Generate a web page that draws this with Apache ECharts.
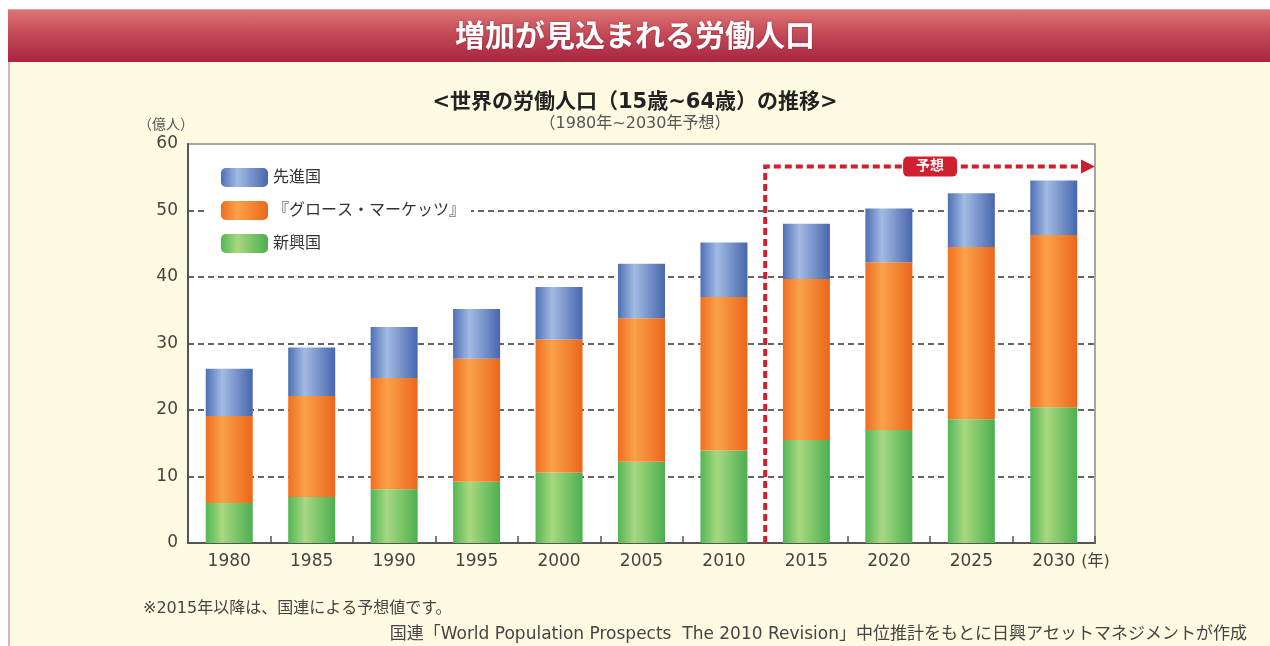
<!DOCTYPE html>
<html>
<head>
<meta charset="utf-8">
<title>増加が見込まれる労働人口</title>
<script src="https://cdn.jsdelivr.net/npm/echarts@6/dist/echarts.min.js"></script>
<style>
    html, body { margin: 0; padding: 0; background: #fff; }
    #wrap { position: relative; width: 1270px; height: 646px; overflow: hidden; }
    /* タイトルバーとクリーム色のパネル */
    .bar { position: absolute; left: 8px; top: 9px; width: 1270px; height: 52px;
           background: linear-gradient(#de7474, #c44b57 45%, #a82442);
           border-top: 1px solid #e8a0a6; }
    .panel { position: absolute; left: 8px; top: 62px; width: 1270px; height: 600px;
             background: #fdfbe2; border-left: 2px solid #e3b0b6; }
    #main { position: absolute; left: 0; top: 0; width: 1270px; height: 646px; }
</style>
</head>
<body>
<div id="wrap">
    <div class="bar"></div>
    <div class="panel"></div>
    <div id="main"></div>
</div>
<script>
// データ（億人）
var years = ['1980', '1985', '1990', '1995', '2000', '2005', '2010', '2015', '2020', '2025', '2030'];
var emerging = [6.0, 6.9, 8.1, 9.2, 10.6, 12.2, 13.9, 15.5, 17.0, 18.6, 20.4];
var growth = [13.1, 15.2, 16.7, 18.5, 20.0, 21.6, 23.1, 24.2, 25.2, 25.9, 25.9];
var developed = [7.1, 7.3, 7.7, 7.5, 7.9, 8.2, 8.2, 8.3, 8.1, 8.1, 8.2];
var yTicks = [0, 10, 20, 30, 40, 50, 60];
var forecastFrom = '2015';
var forecastLevel = 56.6;

var cjk = "'Liberation Sans', 'Noto Sans CJK JP', sans-serif";
var wide = "'DejaVu Sans', 'Noto Sans CJK JP', sans-serif";

// 棒の横方向グラデーション
function barGrad(dark, light, dark2) {
    return new echarts.graphic.LinearGradient(0, 0, 1, 0, [
        { offset: 0, color: dark },
        { offset: 0.35, color: light },
        { offset: 1, color: dark2 }
    ]);
}

var myChart = echarts.init(document.getElementById('main'), null, { renderer: 'canvas' });

var option = {
    animation: false,
    textStyle: { fontFamily: wide },
    title: [
        {
            text: '増加が見込まれる労働人口',
            left: 'center', top: 18,
            textStyle: { color: '#fff', fontSize: 30, fontWeight: 'bold', fontFamily: cjk,
                         textShadowColor: 'rgba(90,0,20,0.5)', textShadowBlur: 2 }
        },
        {
            text: '<世界の労働人口（15歳~64歳）の推移>',
            left: 'center', top: 87,
            textStyle: { color: '#222', fontSize: 21, fontWeight: 'bold', fontFamily: wide }
        },
        {
            text: '（1980年~2030年予想）',
            left: 'center', top: 111,
            textStyle: { color: '#555', fontSize: 16, fontWeight: 'normal', fontFamily: wide }
        },
        {
            text: '※2015年以降は、国連による予想値です。',
            left: 138, top: 596,
            textStyle: { color: '#444', fontSize: 16, fontWeight: 'normal', fontFamily: wide }
        },
        {
            text: '国連「World Population Prospects  The 2010 Revision」中位推計をもとに日興アセットマネジメントが作成',
            right: 18, top: 621,
            textStyle: { color: '#444', fontSize: 17, fontWeight: 'normal', fontFamily: wide }
        }
    ],
    legend: {
        data: ['先進国', '『グロース・マーケッツ』', '新興国'],
        orient: 'vertical',
        left: 205, top: 163,
        padding: [5, 6, 5, 16],
        backgroundColor: '#fff',
        itemWidth: 47, itemHeight: 19, itemGap: 14,
        textStyle: { color: '#333', fontSize: 16, fontFamily: cjk }
    },
    grid: {
        left: 188, right: 175, top: 144, bottom: 103,
        show: true, backgroundColor: '#fff', borderColor: '#8a8a8a', borderWidth: 1.5
    },
    xAxis: {
        type: 'category',
        data: years,
        name: '(年)',
        nameLocation: 'end',
        nameGap: -14,
        nameTextStyle: { color: '#444', fontSize: 16, verticalAlign: 'top', padding: [11, 0, 0, 0] },
        axisLine: { lineStyle: { color: '#555', width: 2 } },
        axisTick: { show: true, inside: true, length: 7, lineStyle: { color: '#555', width: 1.5 } },
        axisLabel: { color: '#444', fontSize: 17, margin: 10 }
    },
    yAxis: {
        type: 'value',
        min: yTicks[0], max: yTicks[yTicks.length - 1], interval: 10,
        name: '（億人）',
        nameLocation: 'end',
        nameGap: 12,
        nameTextStyle: { color: '#555', fontSize: 14, align: 'right', padding: [0, -6, 0, 0] },
        axisLine: { show: true, lineStyle: { color: '#555', width: 2 } },
        axisTick: { show: false },
        axisLabel: { color: '#444', fontSize: 17, margin: 10 },
        splitLine: {
            show: true,
            lineStyle: {
                color: ['rgba(0,0,0,0)', '#333', '#333', '#333', '#333', '#333', 'rgba(0,0,0,0)'],
                type: [6, 4], width: 1.5
            }
        }
    },
    series: [
        {
            name: '新興国', type: 'bar', stack: 'pop', barWidth: 47,
            itemStyle: { color: barGrad('#52b654', '#a8d880', '#4caf50') },
            data: emerging
        },
        {
            name: '『グロース・マーケッツ』', type: 'bar', stack: 'pop', barWidth: 47,
            itemStyle: { color: barGrad('#f06e20', '#f9a24a', '#ec661a') },
            data: growth
        },
        {
            name: '先進国', type: 'bar', stack: 'pop', barWidth: 47,
            itemStyle: { color: barGrad('#4f6fb5', '#a2bbe3', '#4866ad') },
            data: developed
        }
    ]
};

myChart.setOption(option);

// 「予想」の矢印（軸から位置を求める）
var idx = years.indexOf(forecastFrom);
var xPrev = myChart.convertToPixel({ xAxisIndex: 0 }, years[idx - 1]);
var xCur = myChart.convertToPixel({ xAxisIndex: 0 }, years[idx]);
var xLast = myChart.convertToPixel({ xAxisIndex: 0 }, years[years.length - 1]);
var band = xCur - xPrev;
var xStart = (xPrev + xCur) / 2;
var xEnd = xLast + band / 2;
var yBase = myChart.convertToPixel({ yAxisIndex: 0 }, 0);
var yTop = myChart.convertToPixel({ yAxisIndex: 0 }, forecastLevel);
var red = '#d01f2e';
var xMid = (xStart + xEnd) / 2;

myChart.setOption({
    graphic: [
        {
            type: 'polyline', z: 50,
            shape: { points: [[xStart, yBase], [xStart, yTop], [xEnd - 12, yTop]] },
            style: { stroke: red, lineWidth: 4, lineDash: [7, 4], fill: null }
        },
        {
            type: 'polygon', z: 50,
            shape: { points: [[xEnd - 14, yTop - 7], [xEnd, yTop], [xEnd - 14, yTop + 7]] },
            style: { fill: red }
        },
        {
            type: 'rect', z: 51,
            shape: { x: xMid - 27, y: yTop - 10, width: 54, height: 20, r: 5 },
            style: { fill: red }
        },
        {
            type: 'text', z: 52,
            x: xMid, y: yTop,
            style: { text: '予想', fill: '#fff', font: 'bold 14px ' + cjk, align: 'center', verticalAlign: 'middle' }
        }
    ]
});
</script>
</body>
</html>
